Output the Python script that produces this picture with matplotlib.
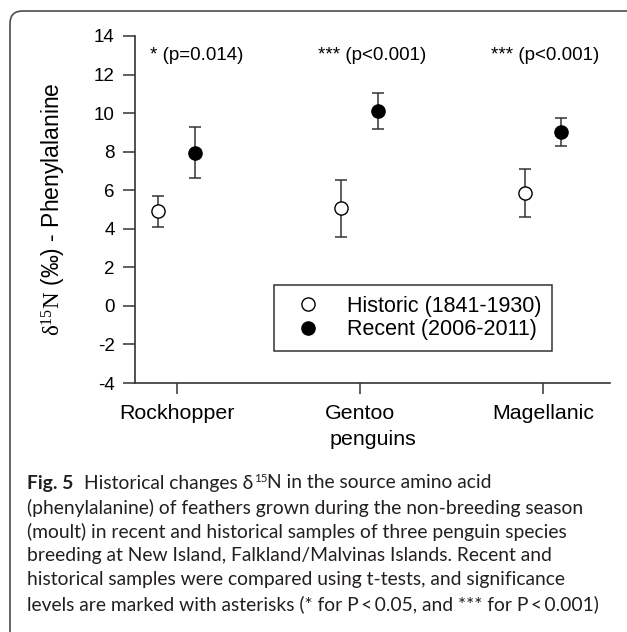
import matplotlib
matplotlib.use('Agg')
import matplotlib.pyplot as plt
from matplotlib.patches import FancyBboxPatch
import numpy as np

# values (mean +/- error)
species = ['Rockhopper', 'Gentoo', 'Magellanic']
historic = [4.90, 5.06, 5.85]
historic_err = [0.82, 1.48, 1.26]
recent = [7.95, 10.12, 9.02]
recent_err = [1.31, 0.92, 0.73]
sig_labels = ['* (p=0.014)', '*** (p<0.001)', '*** (p<0.001)']
sig_x = [0.855, 1.773, 2.716]
sig_y = 13.0
yticks = list(range(-4, 15, 2))

cap_first = ['Fig. 5', 'Historical changes \u03b4', '15', 'N in the source amino acid']
cap_lines = [
    '(phenylalanine) of feathers grown during the non-breeding season',
    '(moult) in recent and historical samples of three penguin species',
    'breeding at New Island, Falkland/Malvinas Islands. Recent and',
    'historical samples were compared using t-tests, and significance',
    'levels are marked with asterisks (* for P\u2009<\u20090.05, and *** for P\u2009<\u20090.001)',
]

plt.rcParams['font.family'] = ['Liberation Sans', 'DejaVu Sans']
plt.rcParams['axes.unicode_minus'] = False
plt.rcParams['mathtext.fontset'] = 'custom'
plt.rcParams['mathtext.rm'] = 'Liberation Serif'
plt.rcParams['mathtext.it'] = 'Liberation Serif:italic'
plt.rcParams['mathtext.bf'] = 'Liberation Serif:bold'
cap_family = ['Lato', 'DejaVu Sans']

W, H = 627, 632
fig = plt.figure(figsize=(W / 100, H / 100), dpi=100)

# card outline: only top and left edges visible, rounded corner
card = FancyBboxPatch((10 / W, -0.1), 1.2, 0.1 + (H - 11) / H,
                      boxstyle='round,pad=0,rounding_size=0.02',
                      transform=fig.transFigure, fill=False,
                      edgecolor='#4d4d4d', lw=1.2)
fig.patches.append(card)

ax = fig.add_axes([135 / W, 1 - 383 / H, 475 / W, 347 / H])
x = np.arange(1, len(species) + 1)
off = 0.1

ax.errorbar(x - off, historic, yerr=historic_err, fmt='none', ecolor='#333333',
            elinewidth=1.1, capsize=4, capthick=1.1, zorder=2)
ax.errorbar(x + off, recent, yerr=recent_err, fmt='none', ecolor='#333333',
            elinewidth=1.1, capsize=4, capthick=1.1, zorder=2)
ax.plot(x - off, historic, 'o', ms=9.5, mfc='white', mec='black', mew=1.0,
        zorder=3, label='Historic (1841-1930)')
ax.plot(x + off, recent, 'o', ms=9.5, mfc='black', mec='black', mew=1.0,
        zorder=3, label='Recent (2006-2011)')

ax.set_xlim(0.773, 3.366)
ax.set_ylim(-4, 14)
ax.set_yticks(yticks)
ax.set_xticks(x, species)
for s in ['top', 'right']:
    ax.spines[s].set_visible(False)
for s in ['left', 'bottom']:
    ax.spines[s].set_color('#333333')
    ax.spines[s].set_linewidth(1.2)
ax.tick_params(axis='y', length=8.5, width=1.1, color='#333333', labelsize=13.5, pad=6)
ax.tick_params(axis='x', length=8, width=1.1, color='#333333', labelsize=15.4, pad=7)
ax.set_xlabel('penguins', fontsize=15.4, labelpad=5)

ax.set_ylabel(r'$\mathrm{\delta^{15}N}$ (‰) - Phenylalanine', fontsize=16.5,
              ha='center', va='center')
ax.yaxis.set_label_coords(-0.171, 0.5)

for lab, xs in zip(sig_labels, sig_x):
    ax.text(xs, sig_y, lab, fontsize=13.5, ha='left', va='center')

leg = ax.legend(loc='upper left', bbox_to_anchor=(0.293, 0.282), borderaxespad=0,
                fontsize=15.5, fancybox=False, edgecolor='#333333', framealpha=1,
                handlelength=2.16, handletextpad=0.73, borderpad=0.5, labelspacing=0.1)
leg.get_frame().set_linewidth(1.1)

# caption, fitted so the second line spans the same width as in the figure
renderer = fig.canvas.get_renderer()
probe = fig.text(0, 0, cap_lines[0], fontsize=12, family=cap_family)
cap_size = 12 * 556 / probe.get_window_extent(renderer).width
probe.remove()
cap_color = '#231f20'

xpix = 27
y1 = 1 - 483 / H
t = fig.text(xpix / W, y1, cap_first[0], fontsize=cap_size, family=cap_family,
             weight='bold', va='center', color=cap_color)
xpix += t.get_window_extent(renderer).width + 11
t = fig.text(xpix / W, y1, cap_first[1], fontsize=cap_size, family=cap_family,
             va='center', color=cap_color)
xpix += t.get_window_extent(renderer).width
t = fig.text(xpix / W, y1 + 5 / H, cap_first[2], fontsize=cap_size * 0.6, family=cap_family,
             va='center', color=cap_color)
xpix += t.get_window_extent(renderer).width
fig.text(xpix / W, y1, cap_first[3], fontsize=cap_size, family=cap_family,
         va='center', color=cap_color)

for i, line in enumerate(cap_lines):
    fig.text(27 / W, 1 - (508 + 24 * i) / H, line, fontsize=cap_size, family=cap_family,
             va='center', color=cap_color)

fig.savefig('out.png', dpi=100)
